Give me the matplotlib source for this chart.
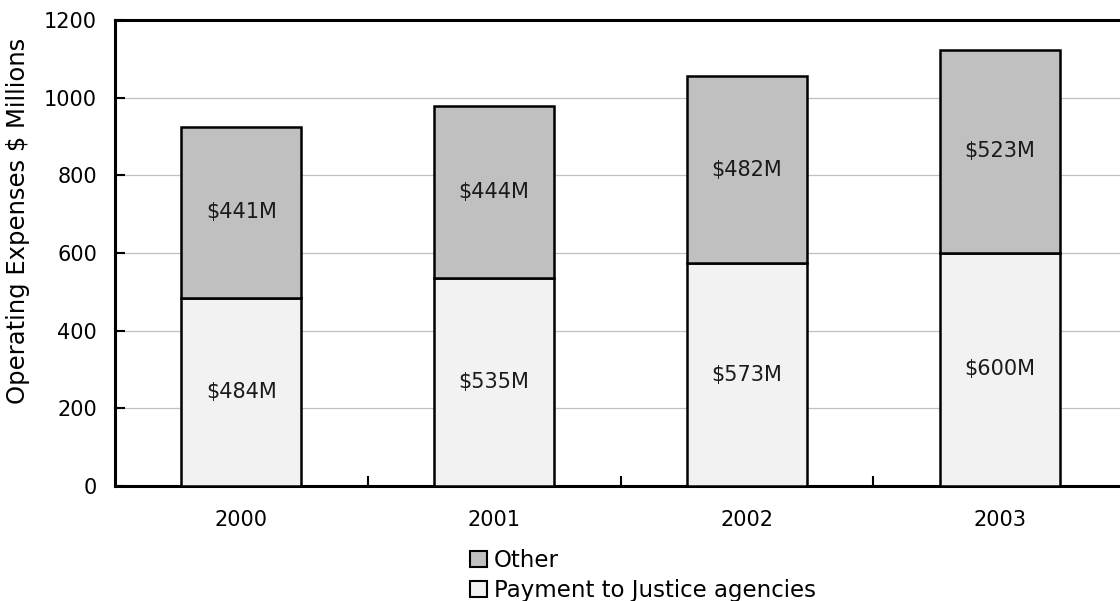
import matplotlib.pyplot as plt
from matplotlib.patches import Patch

years = ["2000", "2001", "2002", "2003"]
payment = [484, 535, 573, 600]     # Payment to Justice agencies
other = [441, 444, 482, 523]       # Other
y_ticks = [0, 200, 400, 600, 800, 1000, 1200]

plt.rcParams['font.family'] = ['DejaVu Sans']

fig = plt.figure(figsize=(11.2, 6.01), dpi=100)
# right edge of the frame runs just past the figure border
ax = fig.add_axes([115 / 1120, 115 / 601, (1126 - 115) / 1120, 466 / 601])

x = list(range(len(years)))
w = 0.475
ax.bar(x, payment, width=w, color="#f2f2f2", edgecolor="black", linewidth=1.8, zorder=3)
ax.bar(x, other, width=w, bottom=payment, color="#c0c0c0", edgecolor="black", linewidth=1.8, zorder=3)

# value labels in the middle of each segment
for i in x:
    ax.text(i, payment[i] / 2, f"${payment[i]}M", ha="center", va="center", fontsize=15, color="#1a1a1a", zorder=4)
    ax.text(i, payment[i] + other[i] / 2, f"${other[i]}M", ha="center", va="center", fontsize=15, color="#1a1a1a", zorder=4)

ax.set_xlim(-0.5, len(years) - 0.5)
ax.set_ylim(0, 1200)
ax.set_yticks(y_ticks)
ax.set_yticklabels([str(v) for v in y_ticks], fontsize=15)
ax.yaxis.grid(True, color="#c0c0c0", linewidth=0.9, zorder=0)
ax.set_axisbelow(True)

# category labels centred, tick marks on the boundaries
ax.set_xticks([i + 0.5 for i in x[:-1]], minor=False)
ax.set_xticklabels([])
ax.set_xticks(x, minor=True)
ax.set_xticklabels(years, minor=True, fontsize=15)
ax.tick_params(axis="x", which="minor", length=0, pad=17)
ax.tick_params(axis="x", which="major", direction="in", length=7, width=1.5)
ax.tick_params(axis="y", direction="in", length=7, width=1.5, pad=13)

for s in ax.spines.values():
    s.set_linewidth(2.2)

fig.text(18 / 1120, 1 - 221 / 601, "Operating Expenses $ Millions", rotation=90,
         ha="center", va="center", fontsize=17.5)

handles = [Patch(facecolor="#c0c0c0", edgecolor="black", linewidth=1.5, label="Other"),
           Patch(facecolor="#f2f2f2", edgecolor="black", linewidth=1.5, label="Payment to Justice agencies")]
fig.legend(handles=handles, loc="upper left", bbox_to_anchor=(470 / 1120, 1 - 549 / 601),
           frameon=False, fontsize=16.5, handlelength=0.75, handleheight=0.72,
           handletextpad=0.28, labelspacing=0.32, borderaxespad=0, borderpad=0)

fig.savefig("out.png", dpi=100)
